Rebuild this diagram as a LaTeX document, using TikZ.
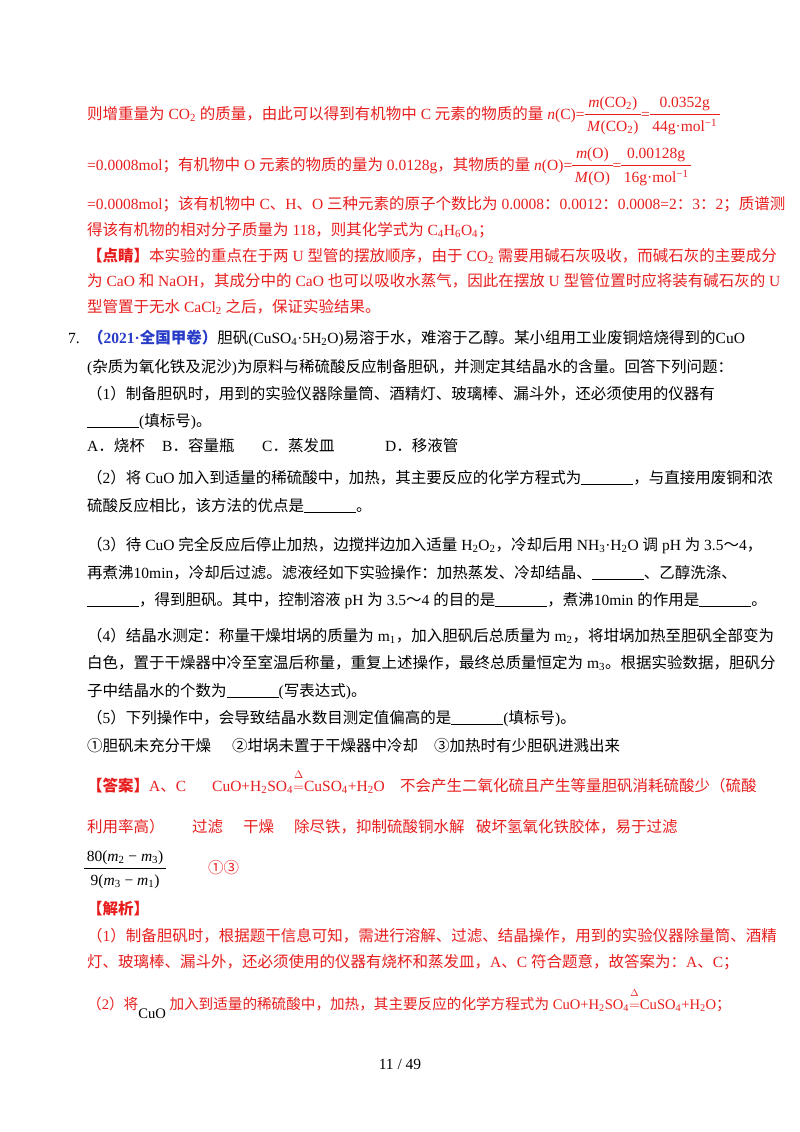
\documentclass[tikz,border=0pt]{standalone}
\usepackage{amsmath}
\usepackage{fontspec}
\setmainfont{Liberation Serif}
\newfontfamily\cjk{Noto Sans CJK SC}
\XeTeXinterchartokenstate=1
\newXeTeXintercharclass\CJKcls
\makeatletter
\def\setcls#1#2{\count@=#1\relax\loop\XeTeXcharclass\count@=\CJKcls\relax\advance\count@ 1\relax\ifnum\count@<#2\repeat}
\setcls{"4E00}{"A000}
\setcls{"3000}{"3040}
\setcls{"FF00}{"FFF0}
\setcls{"2460}{"2474}
\makeatother
\XeTeXinterchartoks 0 \CJKcls = {\cjk}
\XeTeXinterchartoks 4095 \CJKcls = {\cjk}
\XeTeXinterchartoks \CJKcls 0 = {\rmfamily}
\XeTeXinterchartoks \CJKcls 4095 = {\rmfamily}
\definecolor{ansred}{RGB}{232,30,30}
\definecolor{srcblue}{RGB}{40,60,200}
\newcommand{\blank}{\rule[-2pt]{52pt}{0.6pt}}
\newcommand{\heat}{$\overset{\raisebox{4pt}{$\scriptstyle\Delta$}}{=}$}
\newcommand{\sub}[1]{\textsubscript{#1}}
\newcommand{\frc}[2]{\ensuremath{\vcenter{\hbox{\renewcommand{\arraystretch}{1.1}\begin{tabular}{@{\,}c@{\,}}#1\\[1pt]\hline\rule{0pt}{17pt}#2\end{tabular}}}}}
\tikzset{txt/.style={anchor=base west,inner sep=0pt,font=\fontsize{15.5}{18}\selectfont},
 rd/.style={txt,text=ansred}}
\begin{document}
\begin{tikzpicture}[x=1pt,y=-1pt]
\useasboundingbox (0,0) rectangle (800,1132);
\fill[white] (0,0) rectangle (800,1132);
\begin{scope}[yshift=4pt]
\node[rd] (l1) at (87,123) {则增重量为 CO\sub{2} 的质量，由此可以得到有机物中 C 元素的物质的量 \textit{n}(C)=\frc{\textit{m}(CO\sub{2})}{\textit{M}(CO\sub{2})}=\frc{0.0352g}{44g·mol\textsuperscript{−1}}};
\node[rd] (l2) at (87,174) {=0.0008mol；有机物中 O 元素的物质的量为 0.0128g，其物质的量 \textit{n}(O)=\frc{\textit{m}(O)}{\textit{M}(O)}=\frc{0.00128g}{16g·mol\textsuperscript{−1}}};
\node[rd] (l3) at (87,213) {=0.0008mol；该有机物中 C、H、O 三种元素的原子个数比为 0.0008：0.0012：0.0008=2：3：2；质谱测};
\node[rd] (l4) at (87,239) {得该有机物的相对分子质量为 118，则其化学式为 C\sub{4}H\sub{6}O\sub{4}；};
\node[rd] (l5) at (87,265) {{\bfseries 【点睛】}本实验的重点在于两 U 型管的摆放顺序，由于 CO\sub{2} 需要用碱石灰吸收，而碱石灰的主要成分};
\node[rd] (l6) at (87,290) {为 CaO 和 NaOH，其成分中的 CaO 也可以吸收水蒸气，因此在摆放 U 型管位置时应将装有碱石灰的 U};
\node[rd] (l7) at (87,316) {型管置于无水 CaCl\sub{2} 之后，保证实验结果。};
\node[txt] (n7) at (68,347) {7.};
\node[txt] (l8) at (88,347) {{\color{srcblue}\bfseries （2021·全国甲卷）}胆矾(CuSO\sub{4}·5H\sub{2}O)易溶于水，难溶于乙醇。某小组用工业废铜焙烧得到的CuO};
\node[txt] (l9) at (87,376) {(杂质为氧化铁及泥沙)为原料与稀硫酸反应制备胆矾，并测定其结晶水的含量。回答下列问题：};
\node[txt] (l10) at (87,403) {（1）制备胆矾时，用到的实验仪器除量筒、酒精灯、玻璃棒、漏斗外，还必须使用的仪器有};
\node[txt] (l11) at (87,430) {\blank(填标号)。};
\node[txt] (l12a) at (87,455) {A．烧杯};
\node[txt] (l12b) at (162,455) {B．容量瓶};
\node[txt] (l12c) at (262,455) {C．蒸发皿};
\node[txt] (l12d) at (385,455) {D．移液管};
\node[txt] (l13) at (87,487) {（2）将 CuO 加入到适量的稀硫酸中，加热，其主要反应的化学方程式为\blank，与直接用废铜和浓};
\node[txt] (l14) at (87,515) {硫酸反应相比，该方法的优点是\blank。};
\node[txt] (l15) at (87,554) {（3）待 CuO 完全反应后停止加热，边搅拌边加入适量 H\sub{2}O\sub{2}，冷却后用 NH\sub{3}·H\sub{2}O 调 pH 为 3.5～4，};
\node[txt] (l16) at (87,582) {再煮沸10min，冷却后过滤。滤液经如下实验操作：加热蒸发、冷却结晶、\blank、乙醇洗涤、};
\node[txt] (l17) at (87,609) {\blank，得到胆矾。其中，控制溶液 pH 为 3.5～4 的目的是\blank，煮沸10min 的作用是\blank。};
\node[txt] (l18) at (87,645) {（4）结晶水测定：称量干燥坩埚的质量为 m\sub{1}，加入胆矾后总质量为 m\sub{2}，将坩埚加热至胆矾全部变为};
\node[txt] (l19) at (87,672) {白色，置于干燥器中冷至室温后称量，重复上述操作，最终总质量恒定为 m\sub{3}。根据实验数据，胆矾分};
\node[txt] (l20) at (87,700) {子中结晶水的个数为\blank(写表达式)。};
\node[txt] (l21) at (87,727) {（5）下列操作中，会导致结晶水数目测定值偏高的是\blank(填标号)。};
\node[txt] (l22a) at (87,755) {①胆矾未充分干燥};
\node[txt] (l22b) at (232,755) {②坩埚未置于干燥器中冷却};
\node[txt] (l22c) at (434,755) {③加热时有少胆矾进溅出来};
\node[rd] (l23a) at (87,795) {{\bfseries 【答案】}A、C};
\node[rd] (l23b) at (212,795) {CuO+H\sub{2}SO\sub{4}\heat CuSO\sub{4}+H\sub{2}O};
\node[rd] (l23c) at (400,795) {不会产生二氧化硫且产生等量胆矾消耗硫酸少（硫酸};
\node[rd] (l24a) at (87,836) {利用率高）};
\node[rd] (l24b) at (192,836) {过滤};
\node[rd] (l24c) at (243,836) {干燥};
\node[rd] (l24d) at (294,836) {除尽铁，抑制硫酸铜水解};
\node[rd] (l24e) at (476,836) {破坏氢氧化铁胶体，易于过滤};
\node[txt] (fr) at (84,877) {\frc{80(\textit{m}\sub{2} − \textit{m}\sub{3})}{9(\textit{m}\sub{3} − \textit{m}\sub{1})}};
\node[rd] (ans5) at (208,877) {①③};
\node[rd] (l26) at (87,918) {\bfseries 【解析】};
\node[rd] (l27) at (87,945) {（1）制备胆矾时，根据题干信息可知，需进行溶解、过滤、结晶操作，用到的实验仪器除量筒、酒精};
\node[rd] (l28) at (87,971) {灯、玻璃棒、漏斗外，还必须使用的仪器有烧杯和蒸发皿，A、C 符合题意，故答案为：A、C；};
\node[rd,font=\fontsize{14.6}{18}\selectfont] (l29) at (87,1013) {（2）将\raisebox{-9pt}{\textcolor{black}{CuO}} 加入到适量的稀硫酸中，加热，其主要反应的化学方程式为 CuO+H\sub{2}SO\sub{4}\heat CuSO\sub{4}+H\sub{2}O；};
\node[txt,anchor=base] (pg) at (400,1073) {11 / 49};
\end{scope}
\end{tikzpicture}
\end{document}
